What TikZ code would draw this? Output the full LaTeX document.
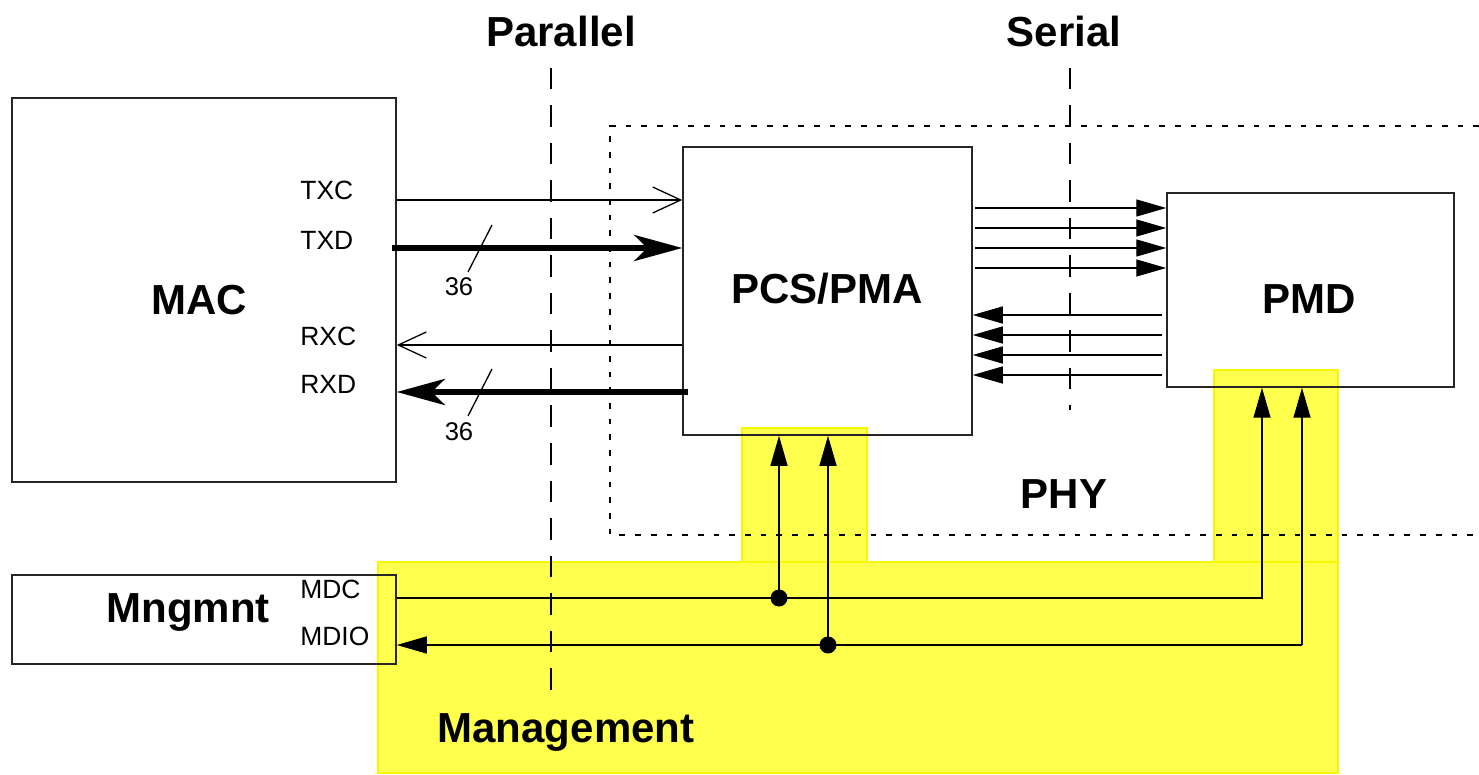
\documentclass[tikz,border=0pt]{standalone}
\usepackage{fontspec}
\setmainfont{Liberation Sans}
\usetikzlibrary{arrows.meta}
\definecolor{mgmtfill}{RGB}{255,255,77}
\definecolor{mgmtedge}{RGB}{250,245,0}
\tikzset{
  blk/.style={draw=black!85, line width=0.75pt},
  big/.style={font=\fontsize{21}{21}\selectfont\bfseries},
  sml/.style={font=\fontsize{13.2}{13.2}\selectfont, anchor=west, inner sep=0pt},
  thin/.style={line width=0.65pt},
  openarr/.style={thin, -{Straight Barb[length=14pt,width=13pt]}},
  thickarr/.style={line width=3pt, -{Stealth[length=24pt,width=13pt,inset=6.5pt]}},
  filarr/.style={thin, -{Triangle[length=15pt,width=8.5pt]}},
  dashln/.style={line width=0.65pt, dash pattern=on 10.75pt off 8pt},
  dotln/.style={line width=0.65pt, dash pattern=on 2.85pt off 5pt},
  yel/.style={fill=mgmtfill, draw=mgmtedge, line width=0.9pt},
  dot/.style={circle, fill=black, inner sep=0pt, minimum size=8.5pt}
}
\begin{document}
\begin{tikzpicture}[x=0.5pt,y=-0.5pt]
\useasboundingbox (0,0) rectangle (1479,775);
\fill[white] (0,0) rectangle (1479,775);

% yellow management region
\path[yel] (378,562) rectangle (1338,773);
\path[yel] (742,428) rectangle (867,562);
\path[yel] (1214,370) rectangle (1338,562);

% PHY dotted region
\draw[dotln] (1479,126) -- (610,126) -- (610,535) -- (1479,535);

% dashed separators
\draw[dashln] (551,68) -- (551,700);
\draw[dashln] (1070,68) -- (1070,410);

% headings
\node[big] (par) at (561,31) {Parallel};
\node[big] (ser) at (1064,31) {Serial};
\node[big] (phy) at (1064,494) {PHY};
\node[big] (mgt) at (566,732) {Management};

% blocks
\node[blk, minimum width=192pt, minimum height=192pt, inner sep=0pt] (mac) at (204,290) {};
\node[big] (mact) at (199,300) {MAC};
\node[blk, minimum width=144.5pt, minimum height=144pt, inner sep=0pt] (pcs) at (827.5,291) {};
\node[big] (pcst) at (827,289) {PCS/PMA};
\node[blk, minimum width=143.5pt, minimum height=97pt, inner sep=0pt] (pmd) at (1310.5,290) {};
\node[big] (pmdt) at (1309,299) {PMD};
\node[blk, minimum width=192pt, minimum height=44.5pt, inner sep=0pt] (mng) at (204,619.5) {};
\node[big] (mngt) at (188,613) {Mngmnt};

% MAC pin labels
\node[sml] (txc) at (300,190) {TXC};
\node[sml] (txd) at (300,240) {TXD};
\node[sml] (rxc) at (300,336) {RXC};
\node[sml] (rxd) at (300,384) {RXD};
\node[sml] (mdc) at (300,589) {MDC};
\node[sml] (mdio) at (300,636) {MDIO};

% parallel interface
\draw[openarr] (mac.east |- 0,200) -- (pcs.west |- 0,200);
\draw[thickarr] (392,248) -- (pcs.west |- 0,248);
\draw[openarr] (pcs.west |- 0,345) -- (mac.east |- 0,345);
\draw[thickarr] (688,392) -- (mac.east |- 0,392);
\draw[thin] (492,225) -- (468,272);
\node[font=\fontsize{12.8}{12.8}\selectfont] (n36a) at (459,287) {36};
\draw[thin] (492,369) -- (468,416);
\node[font=\fontsize{12.8}{12.8}\selectfont] (n36b) at (459,432) {36};

% serial interface
\foreach \yy in {208,228,248,268}
  \draw[filarr] (975,\yy) -- (pmd.west |- 0,\yy);
\foreach \yy in {315,335,355,375}
  \draw[filarr] (1162,\yy) -- (pcs.east |- 0,\yy);

% management
\coordinate (mdcdot) at (779,598);
\coordinate (mdiodot) at (828,645);
\coordinate (mdcpmd) at (1262,598);
\coordinate (mdiopmd) at (1302,645);
\draw[filarr] (mng.east |- mdcdot) -- (mdcpmd) -- (pmd.south -| mdcpmd);
\draw[filarr] (mdcdot) -- (pcs.south -| mdcdot);
\draw[filarr] (mdiopmd) -- (pmd.south -| mdiopmd);
\draw[filarr] (mdiopmd) -- (mng.east |- mdiodot);
\draw[filarr] (mdiodot) -- (pcs.south -| mdiodot);
\node[dot] (d1) at (mdcdot) {};
\node[dot] (d2) at (mdiodot) {};
\end{tikzpicture}
\end{document}
